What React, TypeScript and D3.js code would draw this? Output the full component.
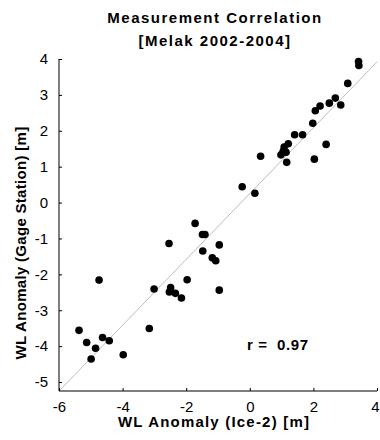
import React, { useEffect, useRef } from "react";
import * as d3 from "d3";

// ice-2 anomaly (x) vs gage station anomaly (y), metres
const iceWL = [
  3.42, 3.43, 3.08, 2.69, 2.5, 2.86, 2.21, 2.06, 1.98, 1.66, 1.41, 1.21, 1.08,
  1.05, 0.98, 1.14, 1.16, 0.34, 2.4, 2.03, -0.24, 0.16, -1.72, -1.49, -1.41,
  -0.96, -1.48, -1.18, -1.07, -1.97, -0.96, -2.54, -4.74, -3.01, -2.49, -2.53,
  -2.34, -2.15, -5.37, -3.16, -5.13, -4.63, -4.42, -4.85, -4.99, -3.98,
];
const gageWL = [
  3.93, 3.82, 3.32, 2.91, 2.77, 2.72, 2.69, 2.56, 2.21, 1.89, 1.89, 1.64, 1.55,
  1.43, 1.33, 1.4, 1.12, 1.29, 1.62, 1.21, 0.44, 0.26, -0.58, -0.89, -0.89,
  -1.18, -1.35, -1.54, -1.62, -2.15, -2.44, -1.14, -2.16, -2.41, -2.37, -2.49,
  -2.53, -2.66, -3.56, -3.51, -3.9, -3.76, -3.85, -4.06, -4.36, -4.24,
];
const xTicks = [-6, -4, -2, 0, 2, 4];
const yTicks = [-5, -4, -3, -2, -1, 0, 1, 2, 3, 4];
// reference line end points (data units)
const refLine = [
  [-6, -5.25],
  [4, 3.92],
];

const width = 380;
const height = 440;
const margin = { top: 59, right: 3, bottom: 49, left: 59 };
const font = "Arial, 'Liberation Sans', sans-serif";

export default function App() {
  const ref = useRef(null);

  useEffect(() => {
    const svg = d3.select(ref.current);
    svg.selectAll("*").remove();

    const x = d3
      .scaleLinear()
      .domain([-6, 4])
      .range([margin.left, width - margin.right]);
    const y = d3
      .scaleLinear()
      .domain([-5.25, 4])
      .range([height - margin.bottom, margin.top]);

    svg
      .append("rect")
      .attr("width", width)
      .attr("height", height)
      .attr("fill", "#fff");

    // titles
    const title = svg
      .append("text")
      .attr("text-anchor", "middle")
      .attr("font-family", font)
      .attr("font-weight", "bold")
      .attr("font-size", 15)
      .attr("letter-spacing", 1.5);
    title.append("tspan").attr("x", 215).attr("y", 23).text("Measurement Correlation");
    title.append("tspan").attr("x", 215).attr("y", 46).text("[Melak 2002-2004]");

    // fit line
    svg
      .append("path")
      .attr("d", d3.line()(refLine.map((d) => [x(d[0]), y(d[1])])))
      .attr("stroke", "#bdbdbd")
      .attr("stroke-width", 1)
      .attr("fill", "none");

    // axes
    const fmt = (d) => String(d);
    const xAxis = svg
      .append("g")
      .attr("transform", `translate(0,${height - margin.bottom})`)
      .call(
        d3.axisBottom(x).tickValues(xTicks).tickFormat(fmt).tickSizeInner(-3).tickSizeOuter(0)
      );
    const yAxis = svg
      .append("g")
      .attr("transform", `translate(${margin.left},0)`)
      .call(
        d3.axisLeft(y).tickValues(yTicks).tickFormat(fmt).tickSizeInner(-3).tickSizeOuter(0)
      );
    [xAxis, yAxis].forEach((g) => {
      g.selectAll("line").attr("stroke", "#000");
      g.selectAll("text")
        .attr("font-family", font)
        .attr("font-size", 15)
        .attr("fill", "#000");
    });
    xAxis
      .select(".domain")
      .attr("stroke", "#000")
      .attr("d", `M${x(-6)},0H${x(4)}`);
    yAxis
      .select(".domain")
      .attr("stroke", "#000")
      .attr("d", `M0,${y(4)}V${height - margin.bottom}`);
    xAxis.selectAll("text").attr("dy", "0.71em").attr("y", 10);
    // keep the last label inside the window
    xAxis
      .selectAll("text")
      .filter((d) => d === 4)
      .attr("x", -2);
    yAxis.selectAll("text").attr("x", -11);

    // points
    svg
      .append("g")
      .selectAll("circle")
      .data(iceWL)
      .enter()
      .append("circle")
      .attr("cx", (d) => x(d))
      .attr("cy", (d, i) => y(gageWL[i]))
      .attr("r", 3.8)
      .attr("fill", "#000");

    // labels
    svg
      .append("text")
      .attr("x", 214)
      .attr("y", 427)
      .attr("text-anchor", "middle")
      .attr("font-family", font)
      .attr("font-weight", "bold")
      .attr("font-size", 15)
      .attr("letter-spacing", 1.2)
      .text("WL Anomaly (Ice-2) [m]");
    svg
      .append("text")
      .attr("transform", "translate(26,243) rotate(-90)")
      .attr("text-anchor", "middle")
      .attr("font-family", font)
      .attr("font-weight", "bold")
      .attr("font-size", 15)
      .attr("letter-spacing", 0.3)
      .text("WL Anomaly (Gage Station) [m]");

    svg
      .append("text")
      .attr("x", 247)
      .attr("y", 350)
      .attr("font-family", font)
      .attr("font-weight", "bold")
      .attr("font-size", 15)
      .attr("letter-spacing", 0.6)
      .style("white-space", "pre")
      .text("r =  0.97");
  }, []);

  return (
    <svg
      ref={ref}
      width={width}
      height={height}
      style={{ position: "absolute", left: 0, top: 0 }}
    />
  );
}
